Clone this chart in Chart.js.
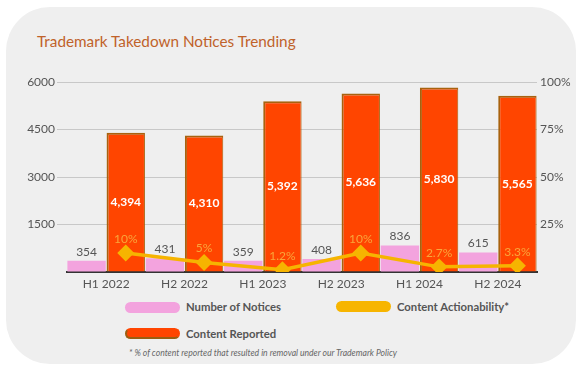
<!DOCTYPE html>
<html>
<head>
<meta charset="utf-8">
<script src="https://cdn.jsdelivr.net/npm/chart.js@4.4.1/dist/chart.umd.min.js"></script>
<style>
  body { margin: 0; background: #fff; font-family: Lato, "Open Sans", sans-serif; }
  #card { position: absolute; left: 6px; top: 7px; width: 570px; height: 357px; background: #efefef; border-radius: 44px; }
  #title { position: absolute; left: 37px; top: 31px; font-size: 15.3px; line-height: 20px; color: #c0622a; }
  #chart { position: absolute; left: 0; top: 0; }
  .pill { position: absolute; width: 55px; height: 11px; border-radius: 6px; box-sizing: border-box; }
  .lg { position: absolute; font-size: 11.3px; font-weight: bold; color: #555; line-height: 14px; }
  #note { position: absolute; left: 129px; top: 347px; font-size: 8.6px; font-style: italic; color: #666; line-height: 12px; }
</style>
</head>
<body>
<div id="card"></div>
<div id="title">Trademark Takedown Notices Trending</div>
<canvas id="chart" width="582" height="300"></canvas>

<div class="pill" style="left:125px;top:302px;background:#f3a3de;"></div>
<div class="lg" style="left:186px;top:300px;">Number of Notices</div>
<div class="pill" style="left:336px;top:301px;background:#f7b500;"></div>
<div class="lg" style="left:397px;top:300px;">Content Actionability*</div>
<div class="pill" style="left:125px;top:328px;background:#ff4500;border:2px solid #9a5e10;border-top-color:#ff4500;border-right-color:#ff4500;"></div>
<div class="lg" style="left:186px;top:327px;">Content Reported</div>
<div id="note">* % of content reported that resulted in removal under our Trademark Policy</div>

<script>
const categories = ['H1 2022', 'H2 2022', 'H1 2023', 'H2 2023', 'H1 2024', 'H2 2024'];
const numberOfNotices = [354, 431, 359, 408, 836, 615];
const contentReported = [4394, 4310, 5392, 5636, 5830, 5565];
const actionability = [10, 5, 1.2, 10, 2.7, 3.3];
const actionabilityLabels = ['10%', '5%', '1.2%', '10%', '2.7%', '3.3%'];

// two slots per category: notices on the left slot, reported + line on the right one
const halfSlots = categories.flatMap(c => [c + ' a', c + ' b']);
const noticesSlots = numberOfNotices.flatMap(v => [v, null]);
const reportedSlots = contentReported.flatMap(v => [null, v]);
const lineSlots = actionability.flatMap(v => [null, v]);

const FONT = 'Lato, "Open Sans", sans-serif';

const valueLabels = {
    id: 'valueLabels',
    afterDatasetsDraw(chart) {
        const ctx = chart.ctx;
        ctx.save();
        ctx.textAlign = 'center';
        ctx.textBaseline = 'middle';
        let k = 0;
        chart.getDatasetMeta(0).data.forEach((bar, i) => {
            if (noticesSlots[i] === null) return;
            ctx.font = '12px ' + FONT;
            ctx.fillStyle = '#555';
            ctx.fillText(numberOfNotices[k++], bar.x, bar.y - 9);
        });
        k = 0;
        chart.getDatasetMeta(1).data.forEach((bar, i) => {
            if (reportedSlots[i] === null) return;
            ctx.font = 'bold 12px ' + FONT;
            ctx.fillStyle = '#fff';
            ctx.fillText(contentReported[k++].toLocaleString('en-US'), bar.x, (bar.y + bar.base) / 2);
        });
        k = 0;
        chart.getDatasetMeta(2).data.forEach((pt, i) => {
            if (lineSlots[i] === null) return;
            ctx.font = '12px ' + FONT;
            ctx.fillStyle = '#f9a63a';
            ctx.fillText(actionabilityLabels[k++], pt.x, pt.y - 14);
        });
        ctx.restore();
    }
};

const config = {
    type: 'bar',
    data: {
        labels: categories,
        datasets: [{
            label: 'Number of Notices',
            data: noticesSlots,
            backgroundColor: '#f3a3de',
            grouped: false,
            categoryPercentage: 0.98,
            barPercentage: 1.0,
            xAxisID: 'xs',
            yAxisID: 'y',
            order: 1
        }, {
            label: 'Content Reported',
            data: reportedSlots,
            backgroundColor: '#ff4500',
            borderColor: '#a8620e',
            borderWidth: { top: 2, left: 2, right: 1, bottom: 0 },
            borderSkipped: 'bottom',
            grouped: false,
            categoryPercentage: 0.98,
            barPercentage: 1.0,
            xAxisID: 'xs',
            yAxisID: 'y',
            order: 1
        }, {
            type: 'line',
            label: 'Content Actionability*',
            data: lineSlots,
            xAxisID: 'xs',
            yAxisID: 'y1',
            borderColor: '#f6b400',
            backgroundColor: '#f6b400',
            borderWidth: 3.5,
            pointStyle: 'rectRot',
            pointRadius: 6,
            spanGaps: true,
            tension: 0,
            order: 0
        }]
    },
    options: {
        responsive: false,
        animation: false,
        layout: { padding: { left: 27, right: 0, top: 82, bottom: 0 } },
        plugins: {
            legend: { display: false },
            tooltip: { enabled: false }
        },
        scales: {
            x: {
                type: 'category',
                labels: categories,
                offset: true,
                grid: { display: true, drawOnChartArea: false, drawTicks: false },
                border: { display: true, color: '#333', width: 2 },
                ticks: { color: '#555', font: { family: FONT, size: 12 }, padding: 5 },
                afterFit: s => { s.height = 28; }
            },
            xs: {
                type: 'category',
                labels: halfSlots,
                offset: true,
                display: false
            },
            y: {
                position: 'left',
                min: 0,
                max: 6000,
                grid: {
                    color: ctx => ctx.tick.value === 0 ? 'rgba(0,0,0,0)' : '#c8c8c8',
                    tickLength: 10,
                    lineWidth: 1
                },
                border: { display: false },
                ticks: {
                    stepSize: 1500,
                    padding: 2,
                    color: '#555',
                    font: { family: FONT, size: 12 },
                    callback: v => v === 0 ? '' : v
                },
                afterFit: s => { s.width = 40; }
            },
            y1: {
                position: 'right',
                min: 0,
                max: 100,
                grid: { drawOnChartArea: false, drawTicks: false },
                border: { display: false },
                ticks: {
                    stepSize: 25,
                    padding: 3,
                    color: '#555',
                    font: { family: FONT, size: 12 },
                    callback: v => v === 0 ? '' : v + '%'
                },
                afterFit: s => { s.width = 45; }
            }
        }
    },
    plugins: [valueLabels]
};

const canvas = document.getElementById('chart');
const chart = new Chart(canvas, config);
</script>
</body>
</html>
